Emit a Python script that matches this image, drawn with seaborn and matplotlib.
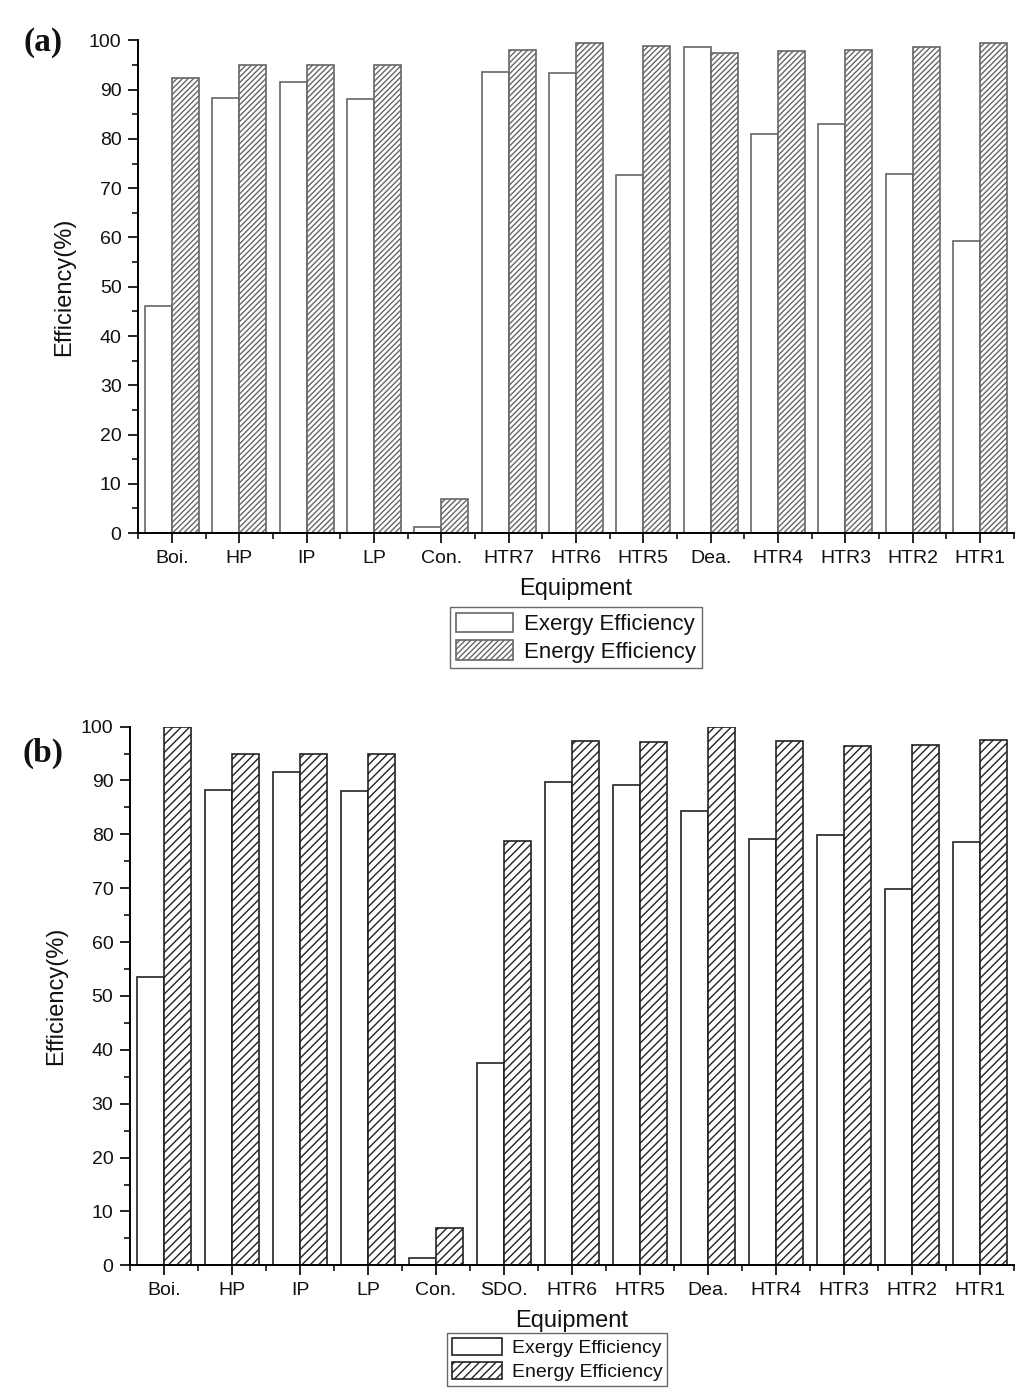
import pandas as pd
import matplotlib
matplotlib.use("Agg")
import matplotlib.pyplot as plt
import seaborn as sns
from matplotlib.ticker import MultipleLocator

sns.set_style("ticks")
plt.rcParams['font.family'] = ['Liberation Sans', 'DejaVu Sans']
plt.rcParams['text.color'] = '#111111'
plt.rcParams['axes.labelcolor'] = '#111111'
plt.rcParams['xtick.color'] = '#111111'
plt.rcParams['ytick.color'] = '#111111'

# 数据 (a)
equip_a = ["Boi.", "HP", "IP", "LP", "Con.", "HTR7", "HTR6", "HTR5",
           "Dea.", "HTR4", "HTR3", "HTR2", "HTR1"]
exergy_a = [46.0, 88.4, 91.6, 88.1, 1.3, 93.6, 93.4, 72.6, 98.6, 81.0, 83.1, 72.9, 59.2]
energy_a = [92.4, 95.0, 95.0, 95.0, 7.0, 98.1, 99.5, 98.8, 97.4, 97.8, 98.0, 98.7, 99.5]

# 数据 (b)
equip_b = ["Boi.", "HP", "IP", "LP", "Con.", "SDO.", "HTR6", "HTR5",
           "Dea.", "HTR4", "HTR3", "HTR2", "HTR1"]
exergy_b = [53.5, 88.3, 91.5, 88.1, 1.3, 37.5, 89.7, 89.1, 84.4, 79.1, 79.8, 69.8, 78.5]
energy_b = [100.0, 95.0, 95.0, 95.0, 6.9, 78.8, 97.3, 97.2, 99.9, 97.4, 96.4, 96.6, 97.5]

series_names = ["Exergy Efficiency", "Energy Efficiency"]


def to_long(equip, exergy, energy):
    df = pd.DataFrame({"Equipment": equip,
                       series_names[0]: exergy,
                       series_names[1]: energy})
    return df.melt(id_vars="Equipment", var_name="type", value_name="eff")


fig = plt.figure(figsize=(10.24, 13.92), dpi=100)
ax_a = fig.add_axes([0.135, 0.617, 0.855, 0.354])
ax_b = fig.add_axes([0.127, 0.091, 0.863, 0.387])

panels = [
    (ax_a, to_long(equip_a, exergy_a, energy_a), "#666666", "//////", 16,
     (576 / 1024, 1 - 607 / 1392), "(a)", 1 - 42 / 1392),
    (ax_b, to_long(equip_b, exergy_b, energy_b), "#222222", "////", 14,
     (557 / 1024, 1 - 1333 / 1392), "(b)", 1 - 753 / 1392),
]

for ax, df, ec, hatch, lfs, leg_pos, tag, tag_y in panels:
    sns.barplot(data=df, x="Equipment", y="eff", hue="type", ax=ax,
                palette=["white", "white"], edgecolor=ec, linewidth=1.2,
                errorbar=None, legend=False, width=0.8)
    for bar in ax.containers[1]:
        bar.set_hatch(hatch)

    ax.set_ylim(0, 100)
    ax.set_xlim(-0.5, 12.5)
    ax.yaxis.set_major_locator(MultipleLocator(10))
    ax.yaxis.set_minor_locator(MultipleLocator(5))
    ax.xaxis.set_minor_locator(MultipleLocator(1, offset=0.5))
    ax.tick_params(axis="both", which="major", direction="out", length=7,
                   width=1.3, labelsize=14, pad=5)
    ax.tick_params(axis="both", which="minor", direction="out", length=4, width=1.2)
    sns.despine(ax=ax)
    for s in ["left", "bottom"]:
        ax.spines[s].set_linewidth(1.4)
        ax.spines[s].set_color("black")

    ax.set_xlabel("Equipment", fontsize=17, labelpad=8)
    ax.set_ylabel("Efficiency(%)", fontsize=17, labelpad=10)

    ax.legend(handles=[ax.containers[0], ax.containers[1]], labels=series_names,
              loc="upper center", bbox_to_anchor=leg_pos,
              bbox_transform=fig.transFigure, fontsize=lfs, frameon=True,
              fancybox=False, edgecolor="#444444", handlelength=2.6,
              handleheight=0.95, handletextpad=0.5, labelspacing=0.25,
              borderpad=0.25, borderaxespad=0)

    fig.text(0.042, tag_y, tag, fontsize=24, fontweight="bold",
             family="Liberation Serif", ha="center", va="center")

fig.savefig("out.png", dpi=100)
